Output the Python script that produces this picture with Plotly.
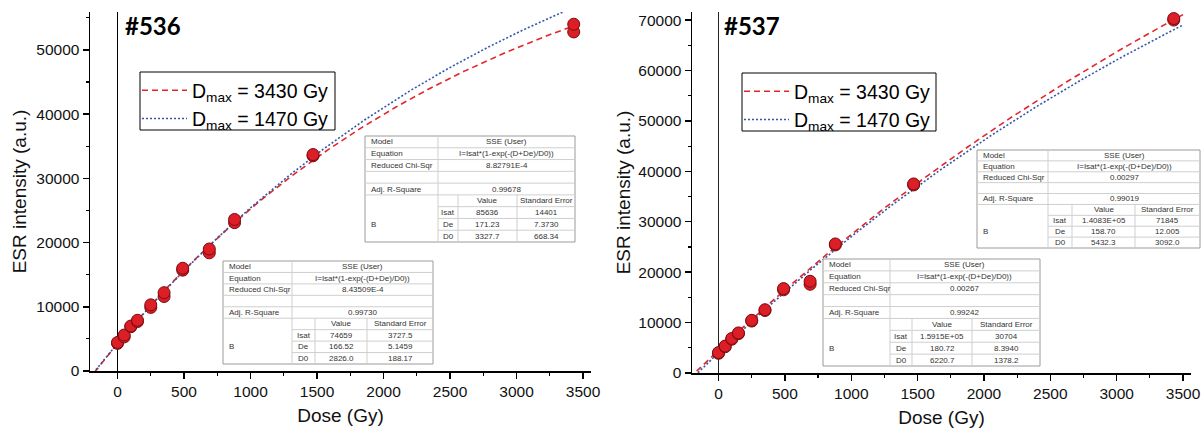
import numpy as np
import plotly.graph_objects as go

W, H = 1204, 435

# ---------------- data ----------------
dose_536 = [0, 0, 50, 50, 100, 100, 150, 150, 250, 250, 350, 350, 490, 490, 690, 690, 880, 880, 1470, 1470, 3430, 3430]
esr_536 = [4300, 4450, 5300, 5600, 6900, 7000, 7700, 7900, 9900, 10300, 11600, 12200, 15700, 16000, 18400, 19000, 23100, 23600, 33500, 33700, 52800, 54000]

dose_537 = [0, 0, 50, 50, 100, 100, 150, 150, 250, 250, 350, 350, 490, 490, 690, 690, 880, 880, 1470, 1470, 3430, 3430]
esr_537 = [3900, 4050, 5200, 5350, 6700, 6850, 7800, 7950, 10300, 10450, 12400, 12550, 16500, 16750, 17600, 18200, 25400, 25600, 37300, 37500, 70000, 70300]

# fit parameters (Isat, De, D0)
fit_536_3430 = [74659, 166.52, 2826.0]
fit_536_1470 = [85636, 171.23, 3327.7]
fit_537_3430 = [1.5915e5, 180.72, 6220.7]
fit_537_1470 = [1.4083e5, 158.70, 5432.3]

# fit-table texts: chi2, adjR2, Isat, Isat_err, De, De_err, D0, D0_err
tbl_536_3430 = ["8.43509E-4", "0.99730", "74659", "3727.5", "166.52", "5.1459", "2826.0", "188.17"]
tbl_536_1470 = ["8.82791E-4", "0.99678", "85636", "14401", "171.23", "7.3730", "3327.7", "668.34"]
tbl_537_3430 = ["0.00267", "0.99242", "1.5915E+05", "30704", "180.72", "8.3940", "6220.7", "1378.2"]
tbl_537_1470 = ["0.00297", "0.99019", "1.4083E+05", "71845", "158.70", "12.005", "5432.3", "3092.0"]

legend_names = ["D<sub>max</sub> = 3430 Gy", "D<sub>max</sub> = 1470 Gy"]
panel_labels = ["#536", "#537"]
equation = "I=Isat*(1-exp(-(D+De)/D0))"

x_ticks = [0, 500, 1000, 1500, 2000, 2500, 3000, 3500]


def model(d, p):
    d = np.asarray(d, dtype=float)
    return p[0] * (1 - np.exp(-(d + p[1]) / p[2]))


def px(x):
    return x / W


def py(y):
    return 1 - y / H


RED = "#e3262a"
BLUE = "#3456a6"
FONT = "Liberation Sans"

fig = go.Figure()

d_curve = np.linspace(-220, 3500, 500)
panels = [
    ("x", "y", "legend", fit_536_3430, fit_536_1470, dose_536, esr_536),
    ("x2", "y2", "legend2", fit_537_3430, fit_537_1470, dose_537, esr_537),
]
for xa, ya, lg, p_red, p_blue, dd, ee in panels:
    fig.add_trace(go.Scatter(x=d_curve, y=model(d_curve, p_red), mode="lines", name=legend_names[0],
                             line=dict(color=RED, width=1.6, dash="6px,4px"), xaxis=xa, yaxis=ya, legend=lg))
    fig.add_trace(go.Scatter(x=d_curve, y=model(d_curve, p_blue), mode="lines", name=legend_names[1],
                             line=dict(color=BLUE, width=1.6, dash="2px,2px"), xaxis=xa, yaxis=ya, legend=lg))
    fig.add_trace(go.Scatter(x=dd, y=ee, mode="markers", showlegend=False,
                             marker=dict(size=12, color="#dc1f26", line=dict(color="#7a0c10", width=1)),
                             xaxis=xa, yaxis=ya))

axis_common = dict(
    showline=True, linecolor="black", linewidth=1.5, ticks="outside", ticklen=6, tickwidth=1.5,
    tickcolor="black", showgrid=False, mirror=False, automargin=False,
    tickfont=dict(family=FONT, size=15.5, color="#111"),
    title_font=dict(family=FONT, size=19, color="#111"),
)

y_dom = [py(371), py(12)]
fig.update_layout(
    width=W, height=H, margin=dict(l=0, r=0, t=0, b=0, autoexpand=False),
    paper_bgcolor="white", plot_bgcolor="white", hovermode=False,
    xaxis=dict(domain=[px(90), px(591)], range=[-207, 3560], tickvals=x_ticks, anchor="y",
               zeroline=True, zerolinecolor="black", zerolinewidth=1.6,
               minor=dict(ticks="outside", ticklen=3, tickwidth=1.2, tickcolor="black", dtick=250, tick0=0, showgrid=False),
               title=dict(text="Dose (Gy)", standoff=9), **axis_common),
    yaxis=dict(domain=y_dom, range=[0, 55900], dtick=10000, tick0=0, tickformat="d", anchor="x", zeroline=False,
               minor=dict(ticks="outside", ticklen=3, tickwidth=1.2, tickcolor="black", dtick=5000, tick0=0, showgrid=False),
               title=dict(text="ESR intensity (a.u.)", standoff=4), **axis_common),
    xaxis2=dict(domain=[px(692), px(1191)], range=[-200, 3560], tickvals=x_ticks, anchor="y2",
                zeroline=True, zerolinecolor="#222", zerolinewidth=1.2,
                minor=dict(ticks="outside", ticklen=3, tickwidth=1.2, tickcolor="black", dtick=250, tick0=0, showgrid=False),
                title=dict(text="Dose (Gy)", standoff=9), **axis_common),
    yaxis2=dict(domain=[py(373), py(12)], range=[0, 71600], dtick=10000, tick0=0, tickformat="d", anchor="x2", zeroline=False,
                minor=dict(ticks="outside", ticklen=3, tickwidth=1.2, tickcolor="black", dtick=5000, tick0=0, showgrid=False),
                title=dict(text="ESR intensity (a.u.)", standoff=2), **axis_common),
    legend=dict(x=px(137), y=py(71), xanchor="left", yanchor="top", borderwidth=0,
                bgcolor="rgba(0,0,0,0)", font=dict(family=FONT, size=19.5, color="black"), itemwidth=45, tracegroupgap=0),
    legend2=dict(x=px(739), y=py(72), xanchor="left", yanchor="top", borderwidth=0,
                 bgcolor="rgba(0,0,0,0)", font=dict(family=FONT, size=19.5, color="black"), itemwidth=45, tracegroupgap=0),
    showlegend=True,
)

annotations = []
shapes = []

# legend frames
for lx0, ly0, lx1, ly1 in [(140, 72, 335, 130), (742, 73, 936, 131)]:
    shapes.append(dict(type="rect", xref="paper", yref="paper", x0=px(lx0), x1=px(lx1), y0=py(ly0), y1=py(ly1),
                       fillcolor="white", line=dict(color="black", width=1), layer="above"))

# panel labels
for lab, xx in zip(panel_labels, [123, 722]):
    annotations.append(dict(x=px(xx), y=py(25), xref="paper", yref="paper", xanchor="left", yanchor="middle",
                            text="<b>%s</b>" % lab, showarrow=False,
                            font=dict(family="Lato", size=24, color="black")))


def add_table(x0, y0, x1, y1, c1, c2, c3, vals):
    rh = (y1 - y0) / 9.0
    tf = dict(family=FONT, size=8, color="#333")
    shapes.append(dict(type="rect", xref="paper", yref="paper", x0=px(x0), x1=px(x1), y0=py(y0), y1=py(y1),
                       fillcolor="white", line=dict(color="#9a9a9a", width=1), layer="above"))
    ln = dict(color="#cfcfcf", width=1)
    for i in range(1, 6):
        yy = y0 + i * rh
        shapes.append(dict(type="line", xref="paper", yref="paper", x0=px(x0), x1=px(x1), y0=py(yy), y1=py(yy), line=ln, layer="above"))
    for i in range(6, 9):
        yy = y0 + i * rh
        shapes.append(dict(type="line", xref="paper", yref="paper", x0=px(c1), x1=px(x1), y0=py(yy), y1=py(yy), line=ln, layer="above"))
    shapes.append(dict(type="line", xref="paper", yref="paper", x0=px(c1), x1=px(c1), y0=py(y0), y1=py(y1), line=ln, layer="above"))
    for cx in (c2, c3):
        shapes.append(dict(type="line", xref="paper", yref="paper", x0=px(cx), x1=px(cx), y0=py(y0 + 5 * rh), y1=py(y1), line=ln, layer="above"))

    def t(xx, row, text, anchor="center"):
        annotations.append(dict(x=px(xx), y=py(y0 + (row + 0.5) * rh), xref="paper", yref="paper",
                                xanchor=anchor, yanchor="middle", text=text, showarrow=False, font=tf))

    mid = (c1 + x1) / 2
    t(x0 + 4, 0, "Model", "left"); t(mid, 0, "SSE (User)")
    t(x0 + 4, 1, "Equation", "left"); t(mid, 1, equation)
    t(x0 + 4, 2, "Reduced Chi-Sqr", "left"); t(mid, 2, vals[0])
    t(x0 + 4, 4, "Adj. R-Square", "left"); t(mid, 4, vals[1])
    t((c2 + c3) / 2, 5, "Value"); t((c3 + x1) / 2, 5, "Standard Error")
    for k, nm in enumerate(["Isat", "De", "D0"]):
        t((c1 + c2) / 2, 6 + k, nm)
        t((c2 + c3) / 2, 6 + k, vals[2 + 2 * k])
        t((c3 + x1) / 2, 6 + k, vals[3 + 2 * k])
    t(x0 + 4, 7, "B", "left")


add_table(365, 136, 575, 242, 438, 458, 517, tbl_536_1470)
add_table(223, 261, 433, 364, 292, 315, 367, tbl_536_3430)
add_table(977, 150, 1200, 248, 1048, 1072, 1135, tbl_537_1470)
add_table(823, 259, 1040, 366, 890, 912, 972, tbl_537_3430)

fig.update_layout(annotations=annotations, shapes=shapes)

fig.write_html("out.html", config={"displayModeBar": False, "staticPlot": True},
               post_script="document.body.style.margin='0px';document.body.style.overflow='hidden';")
